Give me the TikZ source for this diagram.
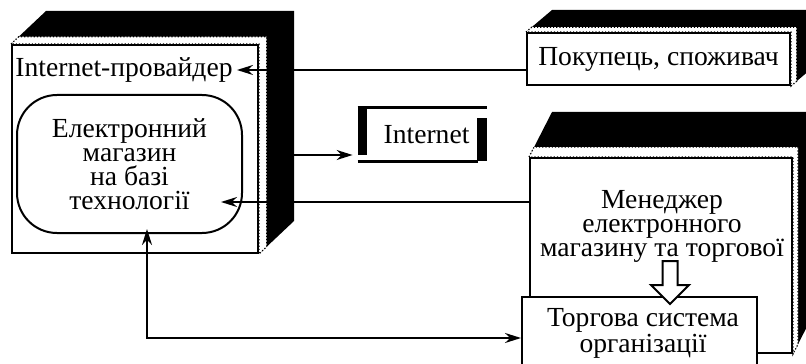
\documentclass[tikz,border=0pt]{standalone}
\usepackage{fontspec}
\setmainfont{Liberation Serif}
\usetikzlibrary{arrows.meta, positioning, calc, backgrounds}

% black top and side faces behind a front node
\newcommand{\boxfaces}[3]{%
  \fill[black] (#1.north west) -- ++(#2,#3) -- ($(#1.north east)+(#2,#3)$)
    -- ($(#1.south east)+(#2,#3)$) -- (#1.south east) -- (#1.north east) -- cycle;
  \filldraw[fill=white, draw=black, densely dotted, line width=0.6pt] (#1.north west)
    -- ($(#1.north west)+0.22*(#2,#3)$) -- ($(#1.north east)+0.22*(#2,#3)$)
    -- ($(#1.south east)+0.22*(#2,#3)$) -- (#1.south east) -- (#1.north east) -- cycle;
}

\begin{document}
\begin{tikzpicture}[x=0.5pt, y=-0.5pt, >={Stealth[length=8pt, width=5pt]},
    front/.style={draw, line width=1pt, fill=white, inner sep=0pt},
    txt/.style={font=\fontsize{13.8}{12}\selectfont, align=center},
    link/.style={->, line width=1pt}]
  \useasboundingbox (0,0) rectangle (806,363);

  % Internet provider block
  \node[front, minimum width=123pt, minimum height=104pt] (prov) at (135,149) {};
  \node[txt, anchor=west, inner sep=2pt] (provlbl) at (11,70) {Internet-провайдер};
  \node[front, rounded corners=20pt, minimum width=112.5pt, minimum height=69pt, txt]
    (shop) at (129.5,164) {Електронний\\магазин\\на базі\\технології};

  % Buyer
  \node[front, minimum width=131.5pt, minimum height=26pt, txt] (buyer) at (658.5,59)
    {Покупець, споживач};

  % Internet frame
  \node[txt, minimum width=64.5pt, minimum height=26.5pt, inner sep=0pt] (internet)
    at (422.5,134.5) {\hspace{4pt}Internet};
  \fill (internet.north west) rectangle ($(internet.south west)+(9,-6)$);
  \draw[line width=1.5pt] (internet.north west) -- (internet.north east);
  \draw[line width=1.5pt] (internet.south west) -- ($(internet.south east)+(-9,0)$);
  \fill ($(internet.north east)+(-10,10)$) rectangle (internet.south east);

  % Manager
  \node[front, minimum width=131pt, minimum height=97.5pt] (mgr) at (661,255.5) {};
  \node[txt] (mgrtxt) at (662,226) {Менеджер\\електронного\\магазину та торгової};

  % Trade system
  \node[front, minimum width=117.5pt, minimum height=41pt] (trade) at (639.5,338) {};
  \node[txt] (tradetxt) at (643,333) {Торгова система\\організації};

  % Hollow arrow
  \coordinate (ha) at (670,261);
  \draw[line width=1pt, fill=white] (ha) ++(-7.5,0) -- ++(15,0) -- ++(0,24) -- ++(11.5,0)
    -- ++(-19,19) -- ++(-19,-19) -- ++(11.5,0) -- cycle;

  % 3D faces
  \begin{scope}[on background layer]
    \boxfaces{prov}{35}{-33}
    \boxfaces{buyer}{26}{-22}
    \boxfaces{mgr}{23}{-45}
  \end{scope}

  % Connectors
  \coordinate (provside) at ($(prov.east)+(35,0)$);
  \coordinate (inet1) at ($(internet.west)+(-5,20.5)$);
  \coordinate (shop1) at ($(shop.east)+(-22,38)$);
  \coordinate (shop2) at ($(shop.south)+(17.5,-5)$);
  \draw[link] (buyer.west |- provlbl.east) -- (provlbl.east);
  \draw[link] (provside |- inet1) -- (inet1);
  \draw[link] (mgr.west |- shop1) -- (shop1);
  \draw[link, <->] (shop2) |- (trade.west);
\end{tikzpicture}
\end{document}
